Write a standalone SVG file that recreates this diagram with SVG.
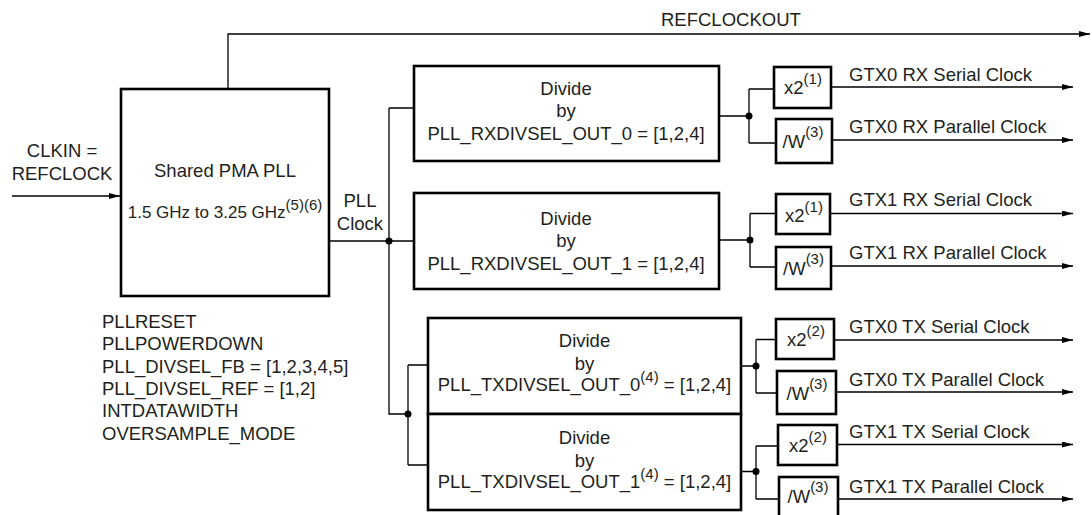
<svg xmlns="http://www.w3.org/2000/svg" width="1092" height="515" viewBox="0 0 1092 515">
<style>
text{font-family:"Liberation Sans",Arial,Helvetica,sans-serif;font-size:18.5px;fill:#231f20}
.c{text-anchor:middle}
.sup{font-size:15px}
.box{fill:#fff;stroke:#000;stroke-width:2.6}
.ln{fill:none;stroke:#000;stroke-width:1.3}
.arr{marker-end:url(#ah)}
.dot{fill:#000}
</style>
<defs>
<marker id="ah" markerUnits="userSpaceOnUse" markerWidth="12" markerHeight="7" refX="11" refY="3" orient="auto">
<path d="M0,0 L11,3 L0,6 Z" fill="#000"/>
</marker>
</defs>
<rect width="1092" height="515" fill="#fff"/>

<g id="connectors">
<path class="ln arr" d="M12,196 H120"/>
<path class="ln arr" d="M228,89 V34 H1090"/>
<path class="ln" d="M329,241 H414 M389,108 V414 H408 M389,108 H414 M408,365 V465 M408,365 H428 M408,465 H428"/>
<circle class="dot" cx="389" cy="241" r="3.5"/>
<circle class="dot" cx="408" cy="414" r="3.5"/>
<!-- RX0 -->
<path class="ln" d="M719,116 H749 M749,89 V143 M749,89 H774 M749,143 H776"/>
<circle class="dot" cx="749" cy="116" r="3.5"/>
<path class="ln arr" d="M831,87 H1073"/>
<path class="ln arr" d="M832,140 H1073"/>
<!-- RX1 -->
<path class="ln" d="M719,240 H750 M750,213.5 V267 M750,213.5 H776 M750,267 H776"/>
<circle class="dot" cx="750" cy="240" r="3.5"/>
<path class="ln arr" d="M830,213.5 H1073"/>
<path class="ln arr" d="M831,266 H1073"/>
<!-- TX0 -->
<path class="ln" d="M741,366 H756 M756,339.5 V393 M756,339.5 H776 M756,393 H777"/>
<circle class="dot" cx="756" cy="366" r="3.5"/>
<path class="ln arr" d="M834,340 H1073"/>
<path class="ln arr" d="M836,392 H1073"/>
<!-- TX1 -->
<path class="ln" d="M741,471.5 H756 M756,446 V499 M756,446 H778 M756,499 H779"/>
<circle class="dot" cx="756" cy="471.5" r="3.5"/>
<path class="ln arr" d="M837,444.5 H1073"/>
<path class="ln arr" d="M838,499 H1073"/>
</g>

<g id="labels">
<text x="661" y="26">REFCLOCKOUT</text>
<text class="c" x="62" y="157">CLKIN =</text>
<text class="c" x="62" y="180">REFCLOCK</text>
<text class="c" x="360" y="207">PLL</text>
<text class="c" x="360" y="230">Clock</text>
<text x="102" y="328">PLLRESET</text>
<text x="102" y="350.3">PLLPOWERDOWN</text>
<text x="102" y="372.6">PLL_DIVSEL_FB = [1,2,3,4,5]</text>
<text x="102" y="394.9">PLL_DIVSEL_REF = [1,2]</text>
<text x="102" y="417.2">INTDATAWIDTH</text>
<text x="102" y="439.5">OVERSAMPLE_MODE</text>
<text x="849" y="81">GTX0 RX Serial Clock</text>
<text x="849" y="133.3">GTX0 RX Parallel Clock</text>
<text x="849" y="206">GTX1 RX Serial Clock</text>
<text x="849" y="259.3">GTX1 RX Parallel Clock</text>
<text x="849" y="333.3">GTX0 TX Serial Clock</text>
<text x="849" y="385.7">GTX0 TX Parallel Clock</text>
<text x="849" y="437.7">GTX1 TX Serial Clock</text>
<text x="849" y="493.3">GTX1 TX Parallel Clock</text>
</g>

<g id="pll">
<rect class="box" x="121" y="89" width="208" height="207"/>
<text class="c" x="225" y="177">Shared PMA PLL</text>
<text class="c" x="225" y="218" style="font-size:17px">1.5 GHz to 3.25 GHz<tspan class="sup" dy="-8">(5)(6)</tspan></text>
</g>

<g id="div-rx0">
<rect class="box" x="414" y="66" width="305" height="95"/>
<text class="c" x="566" y="95">Divide</text>
<text class="c" x="566" y="117">by</text>
<text class="c" x="566" y="139.5">PLL_RXDIVSEL_OUT_0 = [1,2,4]</text>
</g>

<g id="div-rx1">
<rect class="box" x="414" y="193" width="305" height="96"/>
<text class="c" x="566" y="225">Divide</text>
<text class="c" x="566" y="247">by</text>
<text class="c" x="566" y="270">PLL_RXDIVSEL_OUT_1 = [1,2,4]</text>
</g>

<g id="div-tx0">
<rect class="box" x="428" y="318" width="313" height="96"/>
<text class="c" x="584.5" y="347.3">Divide</text>
<text class="c" x="584.5" y="369.5">by</text>
<text class="c" x="584.5" y="390.7">PLL_TXDIVSEL_OUT_0<tspan class="sup" dy="-9">(4)</tspan><tspan dy="9"> = [1,2,4]</tspan></text>
</g>

<g id="div-tx1">
<rect class="box" x="428" y="414" width="313" height="96"/>
<text class="c" x="584.5" y="444">Divide</text>
<text class="c" x="584.5" y="466.5">by</text>
<text class="c" x="584.5" y="487.7">PLL_TXDIVSEL_OUT_1<tspan class="sup" dy="-9">(4)</tspan><tspan dy="9"> = [1,2,4]</tspan></text>
</g>

<g id="x2-rx0">
<rect class="box" x="774" y="67" width="57" height="41"/>
<text class="c" x="803" y="94">x2<tspan class="sup" dy="-10">(1)</tspan></text>
</g>
<g id="w-rx0">
<rect class="box" x="776" y="119" width="56" height="44"/>
<text class="c" x="803" y="148">/W<tspan class="sup" dy="-11">(3)</tspan></text>
</g>
<g id="x2-rx1">
<rect class="box" x="776" y="194" width="54" height="40"/>
<text class="c" x="804" y="221.7">x2<tspan class="sup" dy="-10">(1)</tspan></text>
</g>
<g id="w-rx1">
<rect class="box" x="776" y="247" width="55" height="42"/>
<text class="c" x="803.5" y="275">/W<tspan class="sup" dy="-11">(3)</tspan></text>
</g>
<g id="x2-tx0">
<rect class="box" x="776" y="319" width="58" height="40"/>
<text class="c" x="806" y="346">x2<tspan class="sup" dy="-10">(2)</tspan></text>
</g>
<g id="w-tx0">
<rect class="box" x="777" y="371" width="59" height="43"/>
<text class="c" x="807" y="400">/W<tspan class="sup" dy="-11">(3)</tspan></text>
</g>
<g id="x2-tx1">
<rect class="box" x="778" y="425" width="59" height="40"/>
<text class="c" x="808" y="451.7">x2<tspan class="sup" dy="-10">(2)</tspan></text>
</g>
<g id="w-tx1">
<rect class="box" x="779" y="477" width="59" height="42"/>
<text class="c" x="808" y="503.3">/W<tspan class="sup" dy="-11">(3)</tspan></text>
</g>
</svg>
